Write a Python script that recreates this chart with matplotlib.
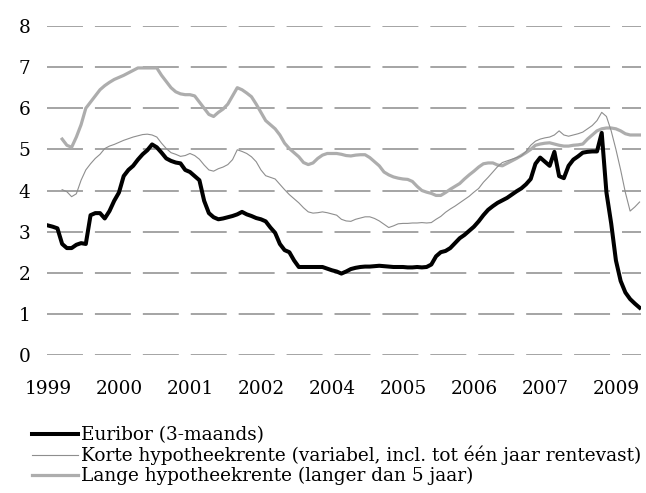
import numpy as np
import matplotlib
matplotlib.use("Agg")
import matplotlib.pyplot as plt

# Monthly data, Jan 1999 - Jun 2009
nan = np.nan
euribor = [
    3.15, 3.12, 3.08, 2.70, 2.60, 2.60, 2.68, 2.72, 2.70, 3.40,
    3.45, 3.45, 3.32, 3.50, 3.75, 3.95, 4.35, 4.50, 4.60, 4.75,
    4.88, 4.98, 5.12, 5.05, 4.92, 4.78, 4.72, 4.68, 4.66, 4.50,
    4.45, 4.35, 4.25, 3.75, 3.45, 3.35, 3.30, 3.32, 3.35, 3.38,
    3.42, 3.48, 3.42, 3.38, 3.33, 3.30, 3.25, 3.10, 2.97, 2.70,
    2.55, 2.50, 2.30, 2.14, 2.14, 2.14, 2.14, 2.14, 2.14, 2.10,
    2.06, 2.03, 1.98, 2.03, 2.09, 2.12, 2.14, 2.15, 2.15, 2.16,
    2.17, 2.16, 2.15, 2.14, 2.14, 2.14, 2.13, 2.13, 2.14, 2.13,
    2.14, 2.20, 2.40, 2.50, 2.53, 2.60, 2.72, 2.84, 2.92, 3.02,
    3.12, 3.25, 3.40, 3.53, 3.62, 3.70, 3.76, 3.82, 3.90, 3.98,
    4.05, 4.15, 4.28, 4.65, 4.80, 4.70, 4.60, 4.94, 4.35, 4.30,
    4.60, 4.75, 4.83, 4.92, 4.94, 4.95, 4.95, 5.40, 3.95, 3.20,
    2.30, 1.80, 1.52, 1.36, 1.25, 1.15,
]
korte = [
    nan, nan, nan, 4.02, 3.97, 3.85, 3.92, 4.25, 4.50, 4.65,
    4.78, 4.88, 5.02, 5.08, 5.12, 5.17, 5.22, 5.26, 5.30, 5.33,
    5.36, 5.37, 5.35, 5.30, 5.15, 5.02, 4.92, 4.88, 4.83, 4.85,
    4.90, 4.85, 4.76, 4.62, 4.50, 4.47, 4.53, 4.57, 4.63, 4.75,
    4.99, 4.95, 4.90, 4.82, 4.70, 4.50, 4.36, 4.32, 4.28, 4.15,
    4.02, 3.90, 3.80, 3.70, 3.58, 3.48, 3.45, 3.46, 3.48, 3.46,
    3.43, 3.40, 3.30, 3.26, 3.25, 3.30, 3.33, 3.36, 3.36, 3.32,
    3.26, 3.18, 3.10, 3.14, 3.19, 3.20, 3.20, 3.21, 3.21, 3.22,
    3.21, 3.22, 3.30, 3.37, 3.47, 3.55, 3.62, 3.70, 3.78, 3.86,
    3.96, 4.05, 4.20, 4.32, 4.45, 4.58, 4.68, 4.72, 4.76, 4.80,
    4.84, 4.95, 5.10, 5.20, 5.25, 5.28, 5.30, 5.35, 5.45, 5.35,
    5.32, 5.35, 5.38, 5.42, 5.50, 5.58, 5.70, 5.90, 5.80, 5.45,
    5.00, 4.50, 3.95, 3.50, 3.60, 3.72,
]
lange = [
    nan, nan, nan, 5.25, 5.10, 5.05, 5.30, 5.60, 6.00, 6.15,
    6.30, 6.45, 6.55, 6.63, 6.70, 6.75, 6.80, 6.86, 6.92, 6.98,
    6.98, 6.98, 6.98, 6.98, 6.80, 6.65, 6.50, 6.40, 6.35, 6.33,
    6.33, 6.30, 6.15, 6.00, 5.85, 5.80, 5.90, 5.98, 6.10, 6.30,
    6.50, 6.45, 6.37, 6.28, 6.10, 5.90, 5.70, 5.60, 5.50, 5.35,
    5.15, 5.02, 4.92, 4.82, 4.68, 4.63, 4.67, 4.78, 4.86, 4.90,
    4.90, 4.90, 4.88, 4.85, 4.84, 4.86, 4.87, 4.87, 4.80, 4.70,
    4.60, 4.45, 4.38, 4.33, 4.30, 4.28, 4.27, 4.22, 4.10, 4.00,
    3.96, 3.93, 3.88, 3.88, 3.95, 4.03, 4.10, 4.17, 4.28, 4.38,
    4.47, 4.57, 4.65, 4.67, 4.67, 4.62, 4.60, 4.66, 4.72, 4.78,
    4.85, 4.92, 5.00, 5.10, 5.13, 5.15, 5.16, 5.13, 5.10, 5.08,
    5.08, 5.10, 5.11, 5.13, 5.25, 5.35, 5.45, 5.50, 5.52, 5.52,
    5.50, 5.45, 5.38, 5.35, 5.35, 5.35,
]
tick_months = [0, 15, 30, 45, 60, 75, 90, 105, 120]
tick_labels = ["1999", "2000", "2001", "2002", "2004", "2005", "2006", "2007", "2009"]
labels = ["Euribor (3-maands)",
          "Korte hypotheekrente (variabel, incl. tot één jaar rentevast)",
          "Lange hypotheekrente (langer dan 5 jaar)"]

plt.rcParams['font.family'] = ['DejaVu Serif']
plt.rcParams['lines.scale_dashes'] = False

fig = plt.figure(figsize=(6.46, 4.93), dpi=100)
ax = fig.add_axes([47 / 646, 1 - 355 / 493, 594 / 646, 329 / 493])

x = np.arange(len(euribor))
ax.plot(x, euribor, color='black', lw=2.9, label=labels[0], zorder=4)
ax.plot(x, korte, color='#8e8e8e', lw=0.8, label=labels[1], zorder=3)
ax.plot(x, lange, color='#adadad', lw=2.3, label=labels[2], zorder=2)

ax.set_ylim(0, 8)
ax.set_xlim(-0.2, 125.3)
ax.set_yticks(range(0, 9))
ax.set_xticks(tick_months)
ax.set_xticklabels(tick_labels)
ax.tick_params(length=0, labelsize=13.3)
ax.tick_params(axis='y', pad=12)
ax.tick_params(axis='x', pad=18)
ax.yaxis.grid(True, color='#8c8c8c', lw=1.1, linestyle=(0, (25.9, 8.6)))
ax.set_axisbelow(True)
for s in ax.spines.values():
    s.set_visible(False)

fig.legend(loc='upper left', bbox_to_anchor=(32 / 646, 1 - 426 / 493),
           frameon=False, fontsize=13.3, handlelength=2.5, handletextpad=0.15,
           labelspacing=0.1, borderpad=0, borderaxespad=0)

fig.savefig("out.png", dpi=100)
